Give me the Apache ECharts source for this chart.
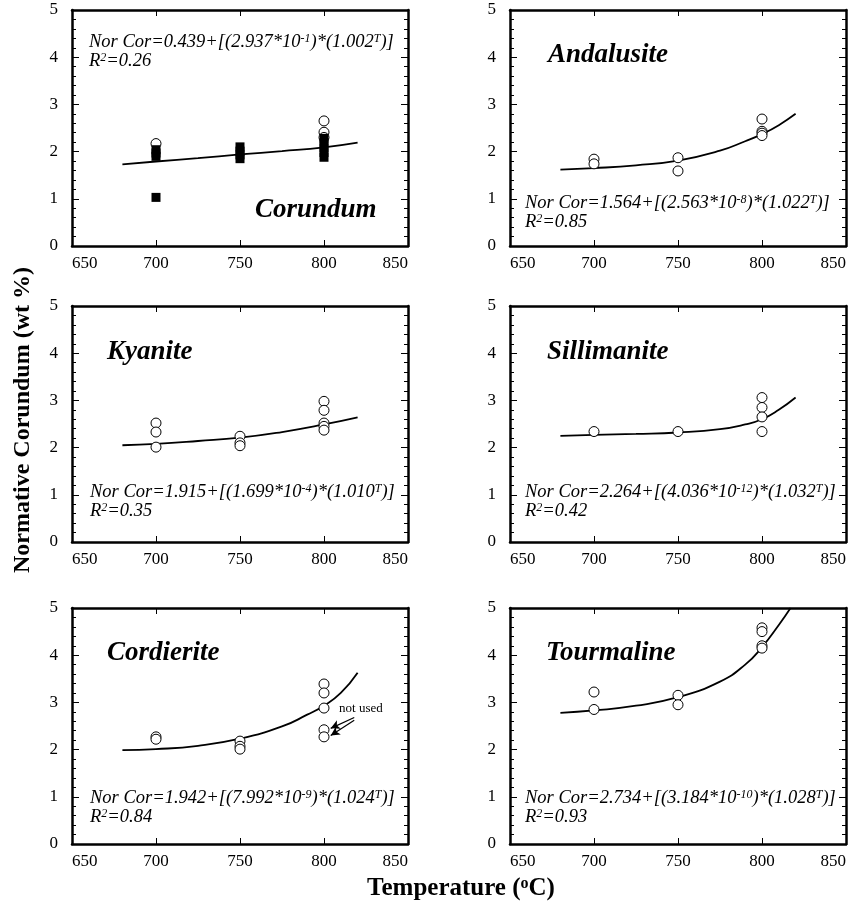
<!DOCTYPE html>
<html>
<head>
<meta charset="utf-8">
<script src="https://cdn.jsdelivr.net/npm/echarts@6/dist/echarts.min.js"></script>
<style>
  html, body { margin: 0; padding: 0; background: #fff; }
  #chart { width: 866px; height: 911px; }
</style>
</head>
<body>
<div id="chart"></div>
<script>
// Axis ticks: temperature (°C) and normative corundum (wt %)
const tempTicks = [650, 700, 750, 800, 850];
const corTicks = [0, 1, 2, 3, 4, 5];

// Corundum: open circles and filled squares, plus fitted curve
const corundumOpen = [[700, 2.17], [800, 2.65], [800, 2.41], [800, 2.3]];
const corundumFilled = [[700, 1.03], [700, 1.9], [700, 1.97], [700, 2.04],
  [750, 1.85], [750, 1.93], [750, 2.01], [750, 2.1],
  [800, 1.88], [800, 1.98], [800, 2.08], [800, 2.18], [800, 2.28]];
const corundumFit = [[680, 1.73], [700, 1.79], [725, 1.86], [750, 1.94], [775, 2.01], [800, 2.09], [820, 2.19]];

const andalusiteOpen = [[700, 1.84], [700, 1.74], [750, 1.87], [750, 1.59],
  [800, 2.69], [800, 2.43], [800, 2.39], [800, 2.34]];
const andalusiteFit = [[680, 1.62], [700, 1.65], [725, 1.71], [750, 1.81], [775, 2.02], [790, 2.22], [800, 2.37], [810, 2.56], [820, 2.8]];

const kyaniteOpen = [[700, 2.52], [700, 2.33], [700, 2.01], [750, 2.24], [750, 2.1], [750, 2.04],
  [800, 2.98], [800, 2.79], [800, 2.52], [800, 2.45], [800, 2.37]];
const kyaniteFit = [[680, 2.05], [700, 2.08], [725, 2.14], [750, 2.21], [775, 2.33], [800, 2.49], [820, 2.64]];

const sillimaniteOpen = [[700, 2.34], [750, 2.34], [800, 3.06], [800, 2.85], [800, 2.65], [800, 2.34]];
const sillimaniteFit = [[680, 2.25], [700, 2.27], [725, 2.29], [750, 2.32], [775, 2.39], [790, 2.49], [800, 2.6], [810, 2.8], [820, 3.06]];

const cordieriteOpen = [[700, 2.27], [700, 2.22], [750, 2.18], [750, 2.07], [750, 2.01],
  [800, 3.39], [800, 3.2], [800, 2.88]];
const cordieriteUnused = [[800, 2.42], [800, 2.27]];
const cordieriteFit = [[680, 1.99], [700, 2.01], [725, 2.08], [750, 2.23], [775, 2.49], [790, 2.74], [800, 2.93], [810, 3.2], [820, 3.63]];

const tourmalineOpen = [[700, 3.22], [700, 2.85], [750, 3.15], [750, 2.95],
  [800, 4.58], [800, 4.5], [800, 4.2], [800, 4.15]];
const tourmalineFit = [[680, 2.78], [700, 2.83], [725, 2.93], [750, 3.11], [775, 3.44], [790, 3.8], [800, 4.17], [810, 4.64], [817, 5.0]];

// Panel names and regression labels: [a, b, exponent of 10, base, R²]
const mineralNames = ['Corundum', 'Andalusite', 'Kyanite', 'Sillimanite', 'Cordierite', 'Tourmaline'];
const fitTerms = [
  ['0.439', '2.937', '-1', '1.002', '0.26'],
  ['1.564', '2.563', '-8', '1.022', '0.85'],
  ['1.915', '1.699', '-4', '1.010', '0.35'],
  ['2.264', '4.036', '-12', '1.032', '0.42'],
  ['1.942', '7.992', '-9', '1.024', '0.84'],
  ['2.734', '3.184', '-10', '1.028', '0.93']
];

// "not used" arrows, in data units of the cordierite panel
const unusedArrows = [[[818, 2.68], [804, 2.45]], [[818, 2.62], [804, 2.3]]];
const unusedLabelAt = [809, 2.86];

const openSets = [corundumOpen, andalusiteOpen, kyaniteOpen, sillimaniteOpen, cordieriteOpen, tourmalineOpen];
const fitSets = [corundumFit, andalusiteFit, kyaniteFit, sillimaniteFit, cordieriteFit, tourmalineFit];

// ---- layout ----
const SERIF = 'Liberation Serif';
const colX = [72, 510];
const rowY = [10, 306, 608];
const plotW = 336, plotH = 236;
const namePos = [[255, 210], [548, 55], [107, 352], [547, 352], [107, 653], [546, 653]];
const eqPos = [[89, 42], [525, 203], [90, 492], [525, 492], [90, 798], [525, 798]];
const eqGap = 19;

const grids = [], xAxes = [], yAxes = [], series = [], graphics = [];

function frameAxis(extra) {
  return Object.assign({
    type: 'value',
    axisLine: { show: true, onZero: false, lineStyle: { color: '#000', width: 2.5 } },
    splitLine: { show: false },
    minorSplitLine: { show: false }
  }, extra);
}

const openStyle = { color: '#fff', borderColor: '#000', borderWidth: 1, opacity: 1 };

for (let i = 0; i < 6; i++) {
  const col = i % 2, row = Math.floor(i / 2);
  grids.push({ left: colX[col], top: rowY[row], width: plotW, height: plotH, containLabel: false, outerBoundsMode: 'none' });

  const xCommon = {
    gridIndex: i,
    min: tempTicks[0], max: tempTicks[tempTicks.length - 1],
    interval: tempTicks[1] - tempTicks[0],
    axisTick: { show: true, inside: true, length: 6, lineStyle: { color: '#000', width: 1 } }
  };
  xAxes.push(frameAxis(Object.assign({}, xCommon, {
    position: 'bottom',
    axisLabel: { show: true, margin: 9, color: '#000', fontFamily: SERIF, fontSize: 17,
      alignMinLabel: 'left', alignMaxLabel: 'right' }
  })));
  xAxes.push(frameAxis(Object.assign({}, xCommon, {
    position: 'top', axisLabel: { show: false }
  })));

  const yCommon = {
    gridIndex: i,
    min: corTicks[0], max: corTicks[corTicks.length - 1],
    interval: corTicks[1] - corTicks[0],
    axisTick: { show: true, inside: true, length: 7, lineStyle: { color: '#000', width: 1 } },
    minorTick: { show: true, splitNumber: 5, length: 4, lineStyle: { color: '#000', width: 1 } }
  };
  yAxes.push(frameAxis(Object.assign({}, yCommon, {
    position: 'left',
    axisLabel: { show: true, margin: 14, color: '#000', fontFamily: SERIF, fontSize: 17 }
  })));
  yAxes.push(frameAxis(Object.assign({}, yCommon, {
    position: 'right', axisLabel: { show: false }
  })));

  series.push({
    type: 'line', xAxisIndex: 2 * i, yAxisIndex: 2 * i,
    data: fitSets[i], smooth: true, showSymbol: false, symbol: 'none',
    lineStyle: { color: '#000', width: 1.8 }, z: 2, silent: true
  });
  series.push({
    type: 'scatter', xAxisIndex: 2 * i, yAxisIndex: 2 * i,
    data: openSets[i], symbol: 'circle', symbolSize: 10,
    itemStyle: openStyle, z: 3, silent: true
  });

  // mineral name
  graphics.push({
    type: 'text', x: namePos[i][0], y: namePos[i][1], z: 10,
    style: { text: mineralNames[i], fill: '#000', fontFamily: SERIF, fontSize: 27,
      fontWeight: 'bold', fontStyle: 'italic', textAlign: 'left', textVerticalAlign: 'middle' }
  });

  // regression equation
  const t = fitTerms[i];
  const rich = {
    i: { fontFamily: SERIF, fontSize: 18.5, fontStyle: 'italic', fill: '#000', color: '#000', lineHeight: 19 },
    s: { fontFamily: SERIF, fontSize: 12, fontStyle: 'italic', fill: '#000', color: '#000', lineHeight: 11, verticalAlign: 'top' }
  };
  graphics.push({
    type: 'text', x: eqPos[i][0], y: eqPos[i][1], z: 10,
    style: {
      text: '{i|Nor Cor=' + t[0] + '+[(' + t[1] + '*10}{s|' + t[2] + '}{i|)*(' + t[3] + '}{s|T}{i|)]}',
      rich: rich, textAlign: 'left', textVerticalAlign: 'middle'
    }
  });
  graphics.push({
    type: 'text', x: eqPos[i][0], y: eqPos[i][1] + eqGap, z: 10,
    style: {
      text: '{i|R}{s|2}{i|=' + t[4] + '}',
      rich: rich, textAlign: 'left', textVerticalAlign: 'middle'
    }
  });
}

// corundum-bearing runs drawn as filled squares
series.push({
  type: 'scatter', xAxisIndex: 0, yAxisIndex: 0,
  data: corundumFilled, symbol: 'rect', symbolSize: 9,
  itemStyle: { color: '#000', opacity: 1 }, z: 4, silent: true
});

// cordierite runs excluded from the fit
series.push({
  type: 'scatter', xAxisIndex: 8, yAxisIndex: 8,
  data: cordieriteUnused, symbol: 'circle', symbolSize: 10,
  itemStyle: openStyle, z: 3, silent: true,
  markLine: {
    silent: true, symbol: ['none', 'arrow'], symbolSize: [7, 9], animation: false,
    lineStyle: { color: '#000', width: 1.2, type: 'solid', opacity: 1 },
    label: { show: false },
    data: unusedArrows.map(a => [{ coord: a[0] }, { coord: a[1] }])
  },
  markPoint: {
    silent: true, animation: false,
    data: [{ coord: unusedLabelAt, symbol: 'circle', symbolSize: 0,
      label: { show: true, position: 'right', distance: 0, formatter: 'not used',
        color: '#000', fontFamily: SERIF, fontSize: 13 } }]
  }
});

// shared axis titles
graphics.push({
  type: 'text', x: 23, y: 420, rotation: Math.PI / 2, z: 10,
  style: { text: 'Normative Corundum (wt %)', fill: '#000', fontFamily: SERIF, fontSize: 24,
    fontWeight: 'bold', textAlign: 'center', textVerticalAlign: 'middle' }
});
graphics.push({
  type: 'text', x: 461, y: 889, z: 10,
  style: {
    text: '{b|Temperature (}{o|o}{b|C)}',
    rich: {
      b: { fontFamily: SERIF, fontSize: 25, fontWeight: 'bold', fill: '#000', color: '#000', lineHeight: 26 },
      o: { fontFamily: SERIF, fontSize: 16, fontWeight: 'bold', fill: '#000', color: '#000', lineHeight: 16, verticalAlign: 'top' }
    },
    textAlign: 'center', textVerticalAlign: 'middle'
  }
});

const chart = echarts.init(document.getElementById('chart'), null, { renderer: 'canvas' });
chart.setOption({
  backgroundColor: '#fff',
  animation: false,
  grid: grids,
  xAxis: xAxes,
  yAxis: yAxes,
  series: series,
  graphic: graphics
});
</script>
</body>
</html>
